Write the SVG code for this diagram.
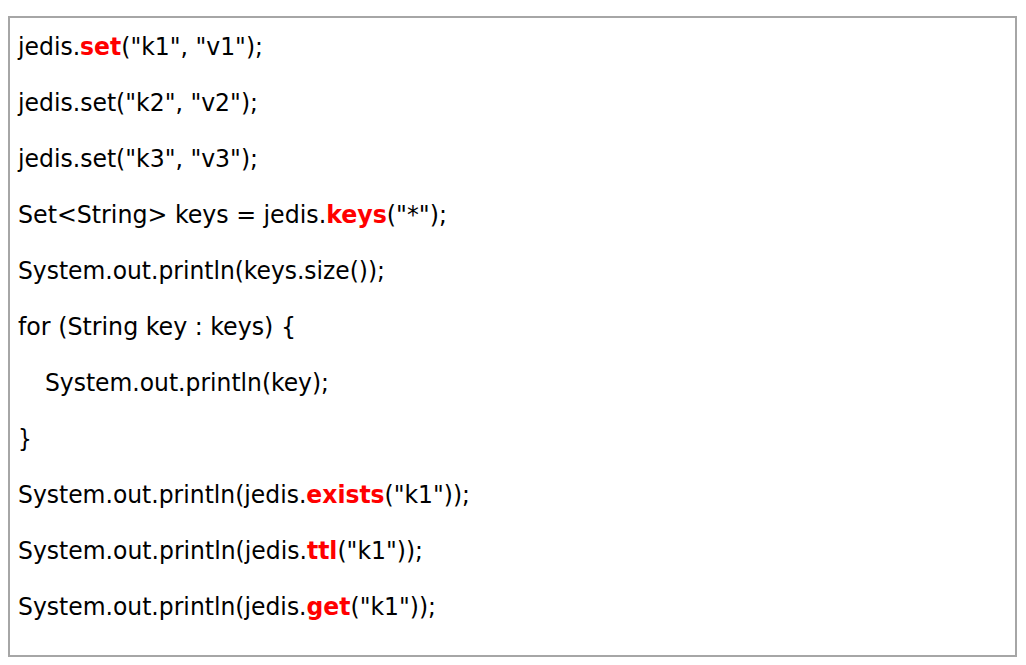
<svg xmlns="http://www.w3.org/2000/svg" width="1026" height="665" viewBox="0 0 1026 665">
<style>
.code{font-family:"DejaVu Sans Condensed","DejaVu Sans","Liberation Sans",sans-serif;font-size:24px;fill:#000;}
.kw{fill:#ff0000;font-weight:bold;}
</style>
<rect width="1026" height="665" fill="#ffffff"/>
<g id="box">
<rect x="9" y="17" width="1007" height="639" fill="#ffffff" stroke="#a6a6a6" stroke-width="2"/>
</g>
<g id="code">
<text class="code" x="18" y="55" textLength="245" lengthAdjust="spacingAndGlyphs">jedis.<tspan class="kw">set</tspan>("k1", "v1");</text>
<text class="code" x="18" y="111" textLength="240" lengthAdjust="spacingAndGlyphs">jedis.set("k2", "v2");</text>
<text class="code" x="18" y="167" textLength="240" lengthAdjust="spacingAndGlyphs">jedis.set("k3", "v3");</text>
<text class="code" x="18" y="223" textLength="429" lengthAdjust="spacingAndGlyphs">Set&lt;String&gt; keys = jedis.<tspan class="kw">keys</tspan>("*");</text>
<text class="code" x="18" y="279" textLength="367" lengthAdjust="spacingAndGlyphs">System.out.println(keys.size());</text>
<text class="code" x="18" y="335" textLength="278" lengthAdjust="spacingAndGlyphs">for (String key : keys) {</text>
<text class="code" x="45" y="391" textLength="284" lengthAdjust="spacingAndGlyphs">System.out.println(key);</text>
<text class="code" x="18" y="447">}</text>
<text class="code" x="18" y="503" textLength="452" lengthAdjust="spacingAndGlyphs">System.out.println(jedis.<tspan class="kw">exists</tspan>("k1"));</text>
<text class="code" x="18" y="559" textLength="405" lengthAdjust="spacingAndGlyphs">System.out.println(jedis.<tspan class="kw">ttl</tspan>("k1"));</text>
<text class="code" x="18" y="615" textLength="418" lengthAdjust="spacingAndGlyphs">System.out.println(jedis.<tspan class="kw">get</tspan>("k1"));</text>
</g>
</svg>
